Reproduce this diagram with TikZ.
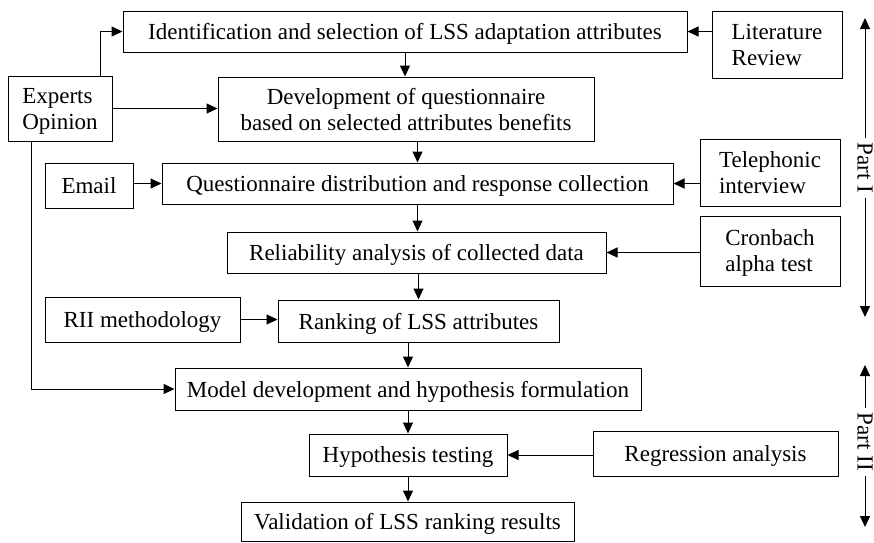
\documentclass[tikz,border=0pt]{standalone}
\usepackage{fontspec}
\setmainfont{Liberation Serif}
\usetikzlibrary{arrows.meta,calc}
\begin{document}
\begin{tikzpicture}[x=1pt,y=-1pt,
  box/.style={draw,line width=1pt,inner sep=0pt,text depth=0pt,font=\fontsize{23}{26}\selectfont},
  lbox/.style={box,align=left},
  cbox/.style={box,align=center},
  arr/.style={line width=1pt,-{Triangle[length=11pt,width=10pt]}},
  partlbl/.style={font=\fontsize{23}{26}\selectfont,rotate=-90,inner xsep=5pt,inner ysep=0pt}]
\useasboundingbox (0,0) rectangle (874,542);
% main column
\node[box,minimum width=564pt,minimum height=41pt] (n1) at (405,31.5) {Identification and selection of LSS adaptation attributes};
\node[cbox,minimum width=376pt,minimum height=64pt] (dev) at (406,109) {Development of questionnaire\\based on selected attributes benefits};
\node[box,minimum width=511pt,minimum height=41pt] (q) at (417.5,183.5) {Questionnaire distribution and response collection};
\node[box,minimum width=379pt,minimum height=41pt] (rel) at (416.5,252.5) {Reliability analysis of collected data};
\node[box,minimum width=281pt,minimum height=42pt] (rank) at (418.5,321) {Ranking of LSS attributes};
\node[box,minimum width=466pt,minimum height=42pt] (model) at (408,389) {Model development and hypothesis formulation};
\node[box,minimum width=198pt,minimum height=42pt] (hyp) at (408,455) {Hypothesis testing};
\node[box,minimum width=333pt,minimum height=39pt] (val) at (407.5,521.5) {Validation of LSS ranking results};
% side boxes
\node[lbox,minimum width=130pt,minimum height=67pt] (lit) at (777,44.5) {Literature\\Review};
\node[lbox,minimum width=104pt,minimum height=65pt] (exp) at (60,108.5) {Experts\\Opinion};
\node[box,minimum width=88pt,minimum height=45pt] (email) at (89,185.5) {Email};
\node[lbox,minimum width=140pt,minimum height=67pt] (tel) at (770,172.5) {Telephonic\\interview};
\node[lbox,minimum width=140pt,minimum height=70pt] (cron) at (770,251) {Cronbach\\alpha test};
\node[box,minimum width=195pt,minimum height=45pt] (rii) at (142.5,319.5) {RII methodology};
\node[box,minimum width=245pt,minimum height=45pt] (reg) at (715.5,453.5) {Regression analysis};
% connectors
\draw[arr] ([xshift=40pt]exp.north) |- (n1.west);
\draw[arr] (exp.east) -- (exp.east -| dev.west);
\draw[arr] ([xshift=-29pt]exp.south) |- (model.west);
\draw[arr] (lit.west |- n1.east) -- (n1.east);
\draw[arr] (n1.south) -- (n1.south |- dev.north);
\draw[arr] (dev.south -| q.north) -- (q.north);
\draw[arr] (email.east |- q.west) -- (q.west);
\draw[arr] (tel.west |- q.east) -- (q.east);
\draw[arr] (q.south) -- (q.south |- rel.north);
\draw[arr] (cron.west |- rel.east) -- (rel.east);
\draw[arr] (rel.south -| rank.north) -- (rank.north);
\draw[arr] (rii.east) -- (rii.east -| rank.west);
\draw[arr] (rank.south -| model.north) -- (model.north);
\draw[arr] (model.south) -- (hyp.north);
\draw[arr] (hyp.south) -- (hyp.south |- val.north);
\draw[arr] (reg.west |- hyp.east) -- (hyp.east);
% part markers
\coordinate (p1a) at (865,18);
\coordinate (p1b) at (865,317);
\node[partlbl] (p1) at (865,168) {Part I};
\draw[arr] (p1.west) -- (p1a);
\draw[arr] (p1.east) -- (p1b);
\coordinate (p2a) at (865,365);
\coordinate (p2b) at (865,527);
\node[partlbl] (p2) at (865,442) {Part II};
\draw[arr] (p2.west) -- (p2a);
\draw[arr] (p2.east) -- (p2b);
\end{tikzpicture}
\end{document}
